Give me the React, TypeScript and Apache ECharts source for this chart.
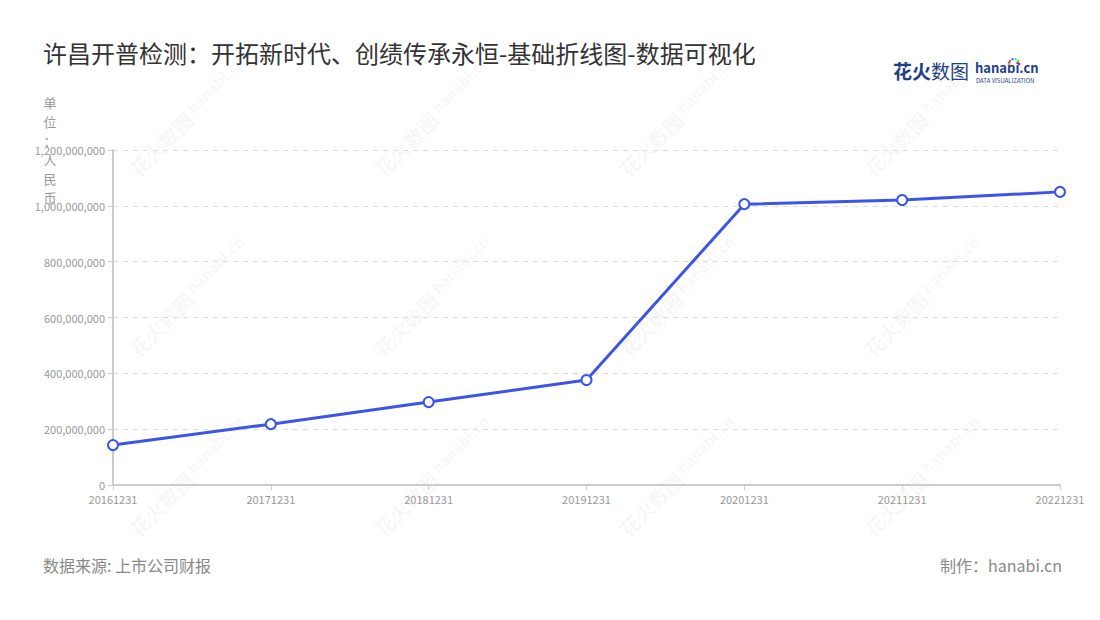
import React, { useEffect, useRef } from "react";
import * as echarts from "echarts";

const dates = ["20161231", "20171231", "20181231", "20191231", "20201231", "20211231", "20221231"];
const revenue = [143000000, 218000000, 297000000, 376000000, 1006000000, 1021000000, 1050000000];

const FONT = "'Noto Sans CJK SC', 'Noto Sans', sans-serif";

// watermark tile centres
const markX = [175, 420, 665, 910];
const markY = [130, 310, 490];

const watermark = () => {
  const out: any[] = [];
  markY.forEach((y) => {
    markX.forEach((x) => {
      out.push({
        type: "group",
        x,
        y,
        rotation: Math.PI / 4,
        silent: true,
        z: -1,
        children: [
          {
            type: "text",
            x: -60,
            y: 0,
            style: {
              text: "花火数图",
              fontSize: 20,
              fontWeight: "bold",
              fontFamily: FONT,
              fill: "rgba(0,0,0,0.05)",
              verticalAlign: "middle",
            },
          },
          {
            type: "text",
            x: 24,
            y: -4,
            style: {
              text: "hanabi.cn",
              fontSize: 15,
              fontWeight: "bold",
              fontFamily: FONT,
              fill: "rgba(0,0,0,0.05)",
              verticalAlign: "middle",
            },
          },
          {
            type: "text",
            x: 26,
            y: 8,
            style: {
              text: "DATA VISUALIZATION",
              fontSize: 5,
              fontFamily: FONT,
              fill: "rgba(0,0,0,0.05)",
              verticalAlign: "middle",
            },
          },
        ],
      });
    });
  });
  return out;
};

const dotColors = ["#f5a623", "#e94e77", "#4a90e2", "#50e3c2", "#7ed321", "#bd10e0"];

const App: React.FC = () => {
  const chartRef = useRef<HTMLDivElement>(null);

  useEffect(() => {
    document.body.style.margin = "0";
    if (!chartRef.current) return;
    const myChart = echarts.init(chartRef.current, undefined, { renderer: "svg" });

    const option: any = {
      animation: false,
      backgroundColor: "#fff",
      textStyle: { fontFamily: FONT },
      title: {
        text: "许昌开普检测：开拓新时代、创绩传承永恒-基础折线图-数据可视化",
        left: 38,
        top: 35,
        textStyle: { fontSize: 24, fontWeight: "normal", color: "#333", fontFamily: FONT },
      },
      grid: { left: 113, right: 40, top: 150, bottom: 135 },
      xAxis: {
        type: "category",
        data: dates,
        boundaryGap: false,
        axisLine: { lineStyle: { color: "#ccc", width: 2 } },
        axisTick: { show: true, lineStyle: { color: "#ccc" } },
        axisLabel: { color: "#999", fontSize: 11, margin: 8, interval: 0 },
      },
      yAxis: {
        type: "value",
        min: 0,
        max: 1200000000,
        interval: 200000000,
        name: "单\n位\n：\n人\n民\n币",
        nameLocation: "end",
        nameGap: -57,
        nameMoveOverlap: false,
        nameTextStyle: {
          color: "#999",
          fontSize: 13,
          lineHeight: 19,
          align: "center",
          padding: [0, 126, 0, 0],
        },
        axisLine: { show: true, lineStyle: { color: "#ccc", width: 2 } },
        axisTick: { show: true, lineStyle: { color: "#ccc" } },
        axisLabel: {
          color: "#999",
          fontSize: 11,
          formatter: (v: number) => v.toLocaleString("en-US"),
        },
        splitLine: { lineStyle: { color: "#ddd", type: [5, 5] } },
      },
      series: [
        {
          type: "line",
          data: revenue,
          symbol: "circle",
          symbolSize: 10,
          lineStyle: { color: "#3c55e8", width: 3 },
          itemStyle: { color: "#fff", borderColor: "#3c55e8", borderWidth: 2 },
        },
      ],
      graphic: [
        ...watermark(),
        {
          type: "text",
          left: 893,
          top: 61,
          style: { text: "花火", fontSize: 19, fontWeight: "bold", fontFamily: FONT, fill: "#1d3f8a" },
        },
        {
          type: "text",
          left: 931,
          top: 61,
          style: { text: "数图", fontSize: 19, fontFamily: FONT, fill: "#1d3f8a" },
        },
        {
          type: "text",
          left: 975,
          top: 61,
          style: { text: "hanabi.cn", fontSize: 13, fontWeight: "bold", fontFamily: FONT, fill: "#1d3f8a" },
        },
        {
          type: "text",
          left: 976,
          top: 77,
          style: { text: "DATA VISUALIZATION", fontSize: 6, fontFamily: FONT, fill: "#1d3f8a" },
        },
        ...dotColors.map((c, i) => ({
          type: "circle",
          shape: {
            cx: 1014 + Math.cos(Math.PI + (i * Math.PI) / 5) * 5,
            cy: 64 + Math.sin(Math.PI + (i * Math.PI) / 5) * 5,
            r: 1.3,
          },
          style: { fill: c },
        })),
        {
          type: "text",
          left: 43,
          top: 557,
          style: { text: "数据来源: 上市公司财报", fontSize: 16, fontFamily: FONT, fill: "#888" },
        },
        {
          type: "text",
          right: 38,
          top: 557,
          style: { text: "制作：hanabi.cn", fontSize: 16, fontFamily: FONT, fill: "#888" },
        },
      ],
    };

    myChart.setOption(option);
    return () => {
      myChart.dispose();
    };
  }, []);

  return <div ref={chartRef} style={{ width: "1100px", height: "620px" }} />;
};

export default App;
